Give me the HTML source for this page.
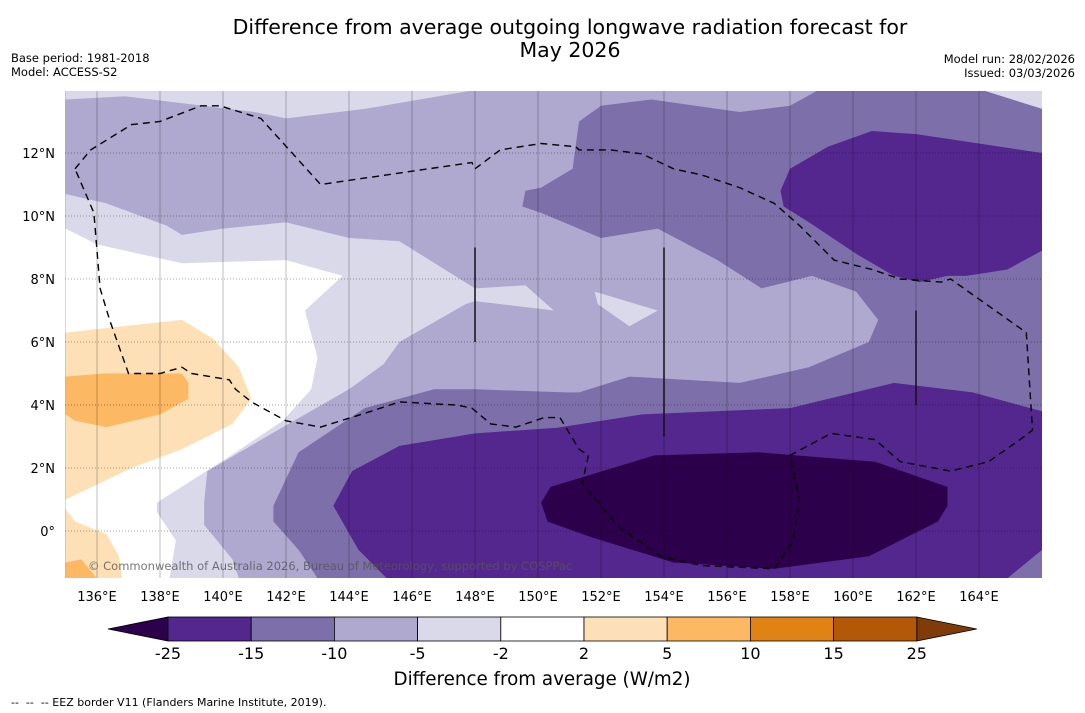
<!DOCTYPE html>
<html><head><meta charset="utf-8">
<style>
body{margin:0;background:#fff;width:1085px;height:713px;overflow:hidden;font-family:"DejaVu Sans","Liberation Sans",sans-serif;}
svg{display:block}
</style></head>
<body>
<svg id="chart" width="1085" height="713" viewBox="0 0 1085 713" xmlns="http://www.w3.org/2000/svg" font-family="DejaVu Sans, Liberation Sans, sans-serif">
<text x="570" y="34" font-size="20.5" text-anchor="middle" fill="#000">Difference from average outgoing longwave radiation forecast for</text>
<text x="570" y="57" font-size="20.5" text-anchor="middle" fill="#000">May 2026</text>
<text x="11" y="62" font-size="11.5">Base period: 1981-2018</text>
<text x="11" y="76" font-size="11.5">Model: ACCESS-S2</text>
<text x="1075" y="63" font-size="11.5" text-anchor="end">Model run: 28/02/2026</text>
<text x="1075" y="77" font-size="11.5" text-anchor="end">Issued: 03/03/2026</text>
<defs><clipPath id="pc"><rect x="65" y="91" width="977" height="487"/></clipPath></defs>
<g id="map" clip-path="url(#pc)"></g>
<g id="axes"></g>
<g id="cbar"></g>
<text x="542" y="685" font-size="18.3" text-anchor="middle">Difference from average (W/m2)</text>
<text x="11" y="706" font-size="11" xml:space="preserve" style="white-space:pre">--  --  -- EEZ border V11 (Flanders Marine Institute, 2019).</text>
</svg>
<script>
const lonTicks=[136,138,140,142,144,146,148,150,152,154,156,158,160,162,164];
const latTicks=[0,2,4,6,8,10,12];
const cbarLevels=["-25","-15","-10","-5","-2","2","5","10","15","25"];
const cbarColors=["#54278f","#7d70aa","#afa9d0","#d9d9ea","#ffffff","#fde0b6","#fdb863","#e08214","#b35806"];
const fillBase="#afa9d0";
const topStrip=[[135,14],[135,13.7],[136.9,13.8],[141,13.3],[142,13.1],[144.5,13.4],[148,14]];
const topCorner=[[164.1,14],[166,13.4],[166,14]];
const lightMain=[[135,10.7],[136.3,10.4],[138.2,9.7],[138.7,9.4],[140,9.6],[142,9.8],[144,9.3],[145.6,9.2],[148,7.7],[149.6,7.8],[150.5,7.0],[148,7.3],[147.7,7.2],[145.6,6.0],[145.1,5.3],[144,4.5],[141.9,3.3],[139.5,1.9],[139.4,0.9],[139.4,0.2],[140.3,-0.9],[140.5,-1.5],[135,-1.5]];
const lightIsland=[[151.8,7.6],[153.8,7.0],[152.9,6.5],[151.9,7.2]];
const whiteZone=[[135,9.6],[136,9.1],[138.7,8.5],[142,8.6],[143.8,8.1],[142.6,7.0],[143,5.5],[142.8,4.5],[141.9,3.5],[140.1,2.3],[137.9,0.9],[137.9,0.6],[138.5,-0.3],[138.3,-1.5],[135,-1.5]];
const orange1=[[135,6.3],[138.7,6.7],[139.7,6.1],[140.5,5.2],[140.9,4.2],[140.3,3.4],[138.7,2.6],[137.1,2.0],[135,1.0]];
const orange1b=[[135,0.7],[135.3,0.3],[136.3,-0.1],[136.7,-0.8],[136.8,-1.5],[135,-1.5]];
const orange2=[[135,4.9],[136.2,5.0],[138.7,5.0],[138.9,4.7],[138.9,4.2],[138,3.7],[136.3,3.3],[135.3,3.5],[135,3.7]];
const orange2b=[[135,-1.0],[135.5,-0.9],[136,-1.5],[135,-1.5]];
const purple1=[[151.3,13.0],[152,13.5],[153.6,13.7],[156.4,13.3],[158,13.5],[158.9,14],[164.1,14],[166,13.4],[166,-1.5],[143,-1.5],[142.4,-0.6],[141.6,0.3],[141.6,0.8],[142.4,2.5],[144.5,3.9],[146.7,4.5],[148,4.5],[150.9,4.4],[151.3,4.4],[152.9,4.9],[156.4,4.7],[158.6,5.2],[160.5,6.0],[160.8,6.7],[160.1,7.6],[158.7,8.1],[157.1,7.7],[155.7,8.6],[153.8,9.6],[152,9.3],[150.1,10.1],[149.5,10.3],[149.6,10.8],[150.1,10.9],[151.1,11.5]];
const purple2top=[[157.7,10.8],[158,11.5],[159.2,12.2],[160.6,12.7],[162,12.6],[164,12.3],[166,12.0],[166,8.9],[164.9,8.3],[163.6,8.1],[163,8.1],[162.1,7.9],[161.3,8.1],[160.1,8.8],[158.6,9.8],[157.8,10.3]];
const purple2bot=[[150.1,3.2],[153.3,3.7],[158,3.9],[161.3,4.7],[163.8,4.4],[166,3.8],[166,-0.6],[164.9,-1.5],[145.2,-1.5],[144.3,-0.6],[143.5,0.8],[144.1,1.9],[145.6,2.7],[148,3.1],[150.9,3.3]];
const purple3=[[150.1,0.9],[150.4,1.4],[153.7,2.4],[157,2.5],[160.7,2.2],[163,1.4],[163,0.8],[162.7,0.3],[161.7,-0.2],[160.5,-0.8],[157.5,-1.2],[154.3,-1.0],[151.7,-0.2],[150.3,0.3]];
const eez=[[135.3,11.5],[135.8,12.1],[137.1,12.9],[138,13.0],[139.3,13.5],[139.9,13.5],[141.2,13.1],[143.1,11.0],[147.9,11.7],[148,11.5],[148.8,12.1],[150.1,12.3],[151.2,12.2],[151.3,12.1],[152.3,12.1],[153.3,11.97],[154.3,11.5],[155.2,11.3],[156.4,10.9],[157.5,10.4],[158.3,9.7],[159.4,8.6],[160.6,8.3],[161.5,8.0],[162.8,7.9],[163.1,8.0],[165.5,6.3],[165.7,3.2],[165.3,2.9],[164.3,2.2],[163.1,1.9],[161.5,2.2],[160.7,2.9],[159.3,3.1],[158,2.4],[158.3,1.0],[158.1,-0.3],[157.5,-1.2],[155.2,-1.1],[153.9,-0.8],[152.6,0.1],[151.4,1.5],[151.6,2.4],[151.3,2.6],[150.7,3.6],[150.2,3.6],[149.3,3.3],[148.5,3.4],[147.9,3.9],[147.4,4.0],[145.6,4.1],[144.7,3.8],[143.1,3.3],[142,3.5],[140.9,4.1],[140.4,4.5],[140.2,4.8],[139,5.0],[138.7,5.2],[138,5.0],[137,5.0],[136.4,6.7],[136.1,7.7],[135.9,10.1],[135.3,11.5]];
const solidLines=[[148,9,6],[154,9,3],[162,7,4]];

const NS="http://www.w3.org/2000/svg";
const X=lon=>97+(lon-136)*31.5;
const Y=lat=>531-lat*31.5;
const map=document.getElementById('map'),axes=document.getElementById('axes'),cbar=document.getElementById('cbar');
function mk(tag,attrs,parent){const e=document.createElementNS(NS,tag);for(const k in attrs)e.setAttribute(k,attrs[k]);parent.appendChild(e);return e;}
function pts(a){return a.map(p=>X(p[0]).toFixed(1)+','+Y(p[1]).toFixed(1)).join(' ');}
let bg=mk('rect',{x:65,y:91,width:977,height:487,fill:fillBase},map);


const layers=[[topStrip,"#d9d9ea","band-minus5-top"],[topCorner,"#d9d9ea","band-minus5-corner"],[lightMain,"#d9d9ea","band-minus5-west"],[lightIsland,"#d9d9ea","band-minus5-island"],[whiteZone,"#ffffff","band-neutral"],[orange1,"#fde0b6","band-2-5"],[orange1b,"#fde0b6","band-2-5-south"],[orange2,"#fdb863","band-5-10"],[orange2b,"#fdb863","band-5-10-south"],[purple1,"#7d70aa","band-minus15-minus10"],[purple2top,"#54278f","band-minus25-minus15-north"],[purple2bot,"#54278f","band-minus25-minus15-south"],[purple3,"#2d004b","band-below-minus25"]];
layers.forEach(l=>{const p=mk('polygon',{points:pts(l[0]),fill:l[1]},map);

});
lonTicks.forEach(v=>{const g=mk('line',{x1:X(v),x2:X(v),y1:91,y2:578,stroke:'#000','stroke-opacity':0.25,'stroke-width':1},map);

});
latTicks.forEach(v=>{const g=mk('line',{x1:65,x2:1042,y1:Y(v),y2:Y(v),stroke:'#000','stroke-opacity':0.35,'stroke-width':1,'stroke-dasharray':'1,2'},map);

});
const ez=mk('polyline',{points:pts(eez),fill:'none',stroke:'#000','stroke-width':1.4,'stroke-dasharray':'7,5'},map);


solidLines.forEach(s=>{const l=mk('line',{x1:X(s[0]),x2:X(s[0]),y1:Y(s[1]),y2:Y(s[2]),stroke:'#111','stroke-width':1.5},map);

});
const cp=mk('text',{x:88,y:570,'font-size':11.5,fill:'#555','fill-opacity':0.8},map);
cp.textContent='© Commonwealth of Australia 2026, Bureau of Meteorology, supported by COSPPac';


lonTicks.forEach(v=>{const t=mk('text',{x:X(v),y:601,'font-size':13,'text-anchor':'middle'},axes);t.textContent=v+'°E';

});
latTicks.forEach(v=>{const t=mk('text',{x:55,y:Y(v)+5,'font-size':13,'text-anchor':'end'},axes);t.textContent=v===0?'0°':v+'°N';

});
const cx0=168,cw=83.2,cy=617,ch=24;
const tl=mk('polygon',{points:`108,${cy+ch/2} ${cx0},${cy} ${cx0},${cy+ch}`,fill:'#2d004b',stroke:'#000','stroke-width':0.8},cbar);


const xe=cx0+cw*cbarColors.length;
const tr=mk('polygon',{points:`${xe},${cy} ${xe+60},${cy+ch/2} ${xe},${cy+ch}`,fill:'#7f3b08',stroke:'#000','stroke-width':0.8},cbar);


cbarColors.forEach((c,i)=>{const r=mk('rect',{x:cx0+i*cw,y:cy,width:cw,height:ch,fill:c,stroke:'#000','stroke-width':0.8},cbar);

});
cbarLevels.forEach((v,i)=>{const t=mk('text',{x:cx0+i*cw,y:659,'font-size':16,'text-anchor':'middle'},cbar);t.textContent=v;

});
</script>
</body></html>
